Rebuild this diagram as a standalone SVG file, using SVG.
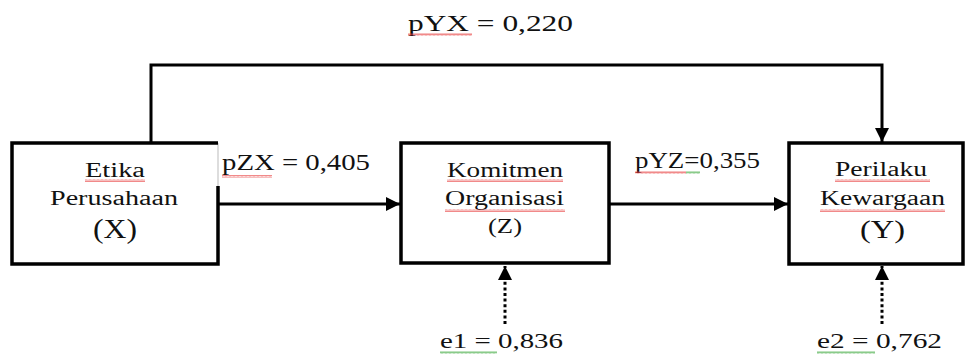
<svg xmlns="http://www.w3.org/2000/svg" width="965" height="356" viewBox="0 0 965 356">
  <style>
    text { font-family: "Liberation Serif", "Times New Roman", serif; fill: #111; }
    .lbl { font-size: 24px; }
    .err { font-size: 22px; }
    .node-text { font-size: 20px; }
    .box { fill: #fff; stroke: #000; stroke-width: 3.5; }
    .link { fill: none; stroke: #000; stroke-width: 3; }
    .dotted { fill: none; stroke: #000; stroke-width: 3; stroke-dasharray: 3 2.6; }
    .sq-red { fill: url(#wavyRed); }
    .sq-green { fill: url(#wavyGreen); }
  </style>
  <defs>
    <marker id="arrow" markerUnits="userSpaceOnUse" markerWidth="14" markerHeight="14" refX="14" refY="7" orient="auto">
      <path d="M0,0 L14,7 L0,14 z" fill="#000"/>
    </marker>
    <!-- spell-check style wavy underline -->
    <pattern id="wavyRed" patternUnits="userSpaceOnUse" width="4" height="3">
      <path d="M0,2.6 L1,0.4 L2,2.6 L3,0.4 L4,2.6" fill="none" stroke="#e83a3a" stroke-width="0.6"/>
    </pattern>
    <pattern id="wavyGreen" patternUnits="userSpaceOnUse" width="4" height="3">
      <path d="M0,2.6 L1,0.4 L2,2.6 L3,0.4 L4,2.6" fill="none" stroke="#3aa83a" stroke-width="0.6"/>
    </pattern>
  </defs>

  <!-- connectors -->
  <g id="connectors">
    <path class="link" d="M151,143 V65 H882 V142" marker-end="url(#arrow)"/>
    <path class="link" d="M218,204 H400" marker-end="url(#arrow)"/>
    <path class="link" d="M609,204 H788" marker-end="url(#arrow)"/>
    <path class="dotted" d="M505,324 V266" marker-end="url(#arrow)"/>
    <path class="dotted" d="M882,324 V266" marker-end="url(#arrow)"/>
  </g>

  <!-- path coefficient labels -->
  <g id="labels">
    <text class="lbl" x="408" y="31" textLength="165" lengthAdjust="spacingAndGlyphs">pYX = 0,220</text>
    <rect class="sq-red" x="408" y="33" width="64" height="3"/>
    <text class="lbl" x="222" y="170" textLength="148" lengthAdjust="spacingAndGlyphs">pZX = 0,405</text>
    <rect class="sq-red" x="222" y="175" width="50" height="3"/>
    <text class="lbl" x="635" y="168" textLength="125" lengthAdjust="spacingAndGlyphs">pYZ=0,355</text>
    <rect class="sq-red" x="635" y="171" width="51" height="3"/>
    <rect class="sq-green" x="686" y="171" width="14" height="3"/>
    <text class="err" x="440" y="348" textLength="123" lengthAdjust="spacingAndGlyphs">e1 = 0,836</text>
    <rect class="sq-green" x="440" y="351" width="57" height="3"/>
    <text class="err" x="817" y="348" textLength="125" lengthAdjust="spacingAndGlyphs">e2 = 0,762</text>
    <rect class="sq-green" x="817" y="351" width="58" height="3"/>
  </g>

  <!-- X: Etika Perusahaan -->
  <g id="node-x">
    <rect x="12" y="143" width="206" height="121" fill="#fff"/>
    <path d="M218,143 V186" stroke="#bbb" stroke-width="1"/>
    <path d="M218,186 V264 H12 V143 H218" fill="none" stroke="#000" stroke-width="3.5"/>
    <text class="node-text" x="85" y="177" textLength="60" lengthAdjust="spacingAndGlyphs">Etika</text>
    <rect class="sq-red" x="85" y="179" width="60" height="3"/>
    <text class="node-text" x="50" y="205" textLength="128" lengthAdjust="spacingAndGlyphs">Perusahaan</text>
    <text x="93" y="238" font-size="28" textLength="44" lengthAdjust="spacingAndGlyphs">(X)</text>
  </g>

  <!-- Z: Komitmen Organisasi -->
  <g id="node-z">
    <rect class="box" x="401" y="143" width="208" height="120"/>
    <text class="node-text" x="447" y="177" textLength="116" lengthAdjust="spacingAndGlyphs">Komitmen</text>
    <rect class="sq-red" x="447" y="179" width="116" height="3"/>
    <text class="node-text" x="445" y="205" textLength="119" lengthAdjust="spacingAndGlyphs">Organisasi</text>
    <rect class="sq-red" x="445" y="209" width="120" height="3"/>
    <text x="488" y="233" font-size="22" textLength="34" lengthAdjust="spacingAndGlyphs">(Z)</text>
  </g>

  <!-- Y: Perilaku Kewargaan -->
  <g id="node-y">
    <rect class="box" x="789" y="143" width="174" height="121"/>
    <text class="node-text" x="835" y="176" textLength="92" lengthAdjust="spacingAndGlyphs">Perilaku</text>
    <rect class="sq-red" x="835" y="179" width="95" height="3"/>
    <text class="node-text" x="820" y="205" textLength="125" lengthAdjust="spacingAndGlyphs">Kewargaan</text>
    <rect class="sq-red" x="820" y="209" width="125" height="3"/>
    <text x="860" y="238" font-size="26" textLength="45" lengthAdjust="spacingAndGlyphs">(Y)</text>
  </g>
</svg>
